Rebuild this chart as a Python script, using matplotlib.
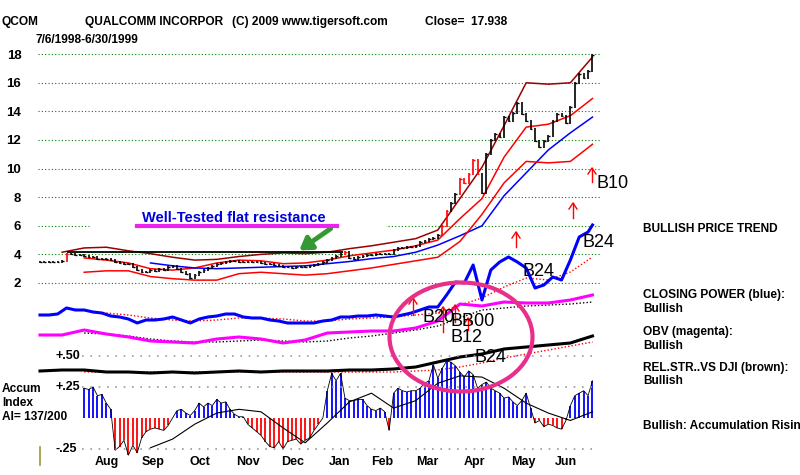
import numpy as np
import matplotlib.pyplot as plt
from matplotlib.patches import Ellipse, Rectangle
from matplotlib.lines import Line2D

W, H = 800, 475

# --- QCOM closes, one value every 2 trading days (7/6/1998 - 6/30/1999)
close = [3.45, 3.5, 3.45, 3.5, 3.5, 3.55,
         4.05, 4.0, 3.95, 3.95, 3.9, 3.85,
         3.8, 3.7, 3.65, 3.65, 3.6, 3.5, 3.4, 3.35, 3.3, 3.1, 2.9, 2.8,
         2.8, 2.9, 2.85, 2.95, 2.9, 3.15, 3.2, 3.0, 2.8, 2.6, 2.35, 2.55,
         2.75, 2.9, 3.05, 3.2, 3.3, 3.4, 3.45, 3.55, 3.55, 3.5, 3.45, 3.45,
         3.5, 3.45, 3.4, 3.35, 3.3, 3.25, 3.2, 3.15, 3.1, 3.05, 3.1, 3.15,
         3.1, 3.2, 3.25, 3.3, 3.45, 3.6, 3.75, 3.9, 4.05, 4.2, 3.75, 3.7,
         3.85, 3.9, 3.95, 3.95, 4.0, 4.0, 4.05, 4.0, 4.3, 4.45, 4.45, 4.5,
         4.55, 4.6, 4.9, 4.95, 5.05, 5.15, 5.35, 6.0, 7.0, 7.6, 8.2, 9.3,
         9.0, 9.6, 10.6, 9.6, 8.3, 11.0, 12.0, 12.4, 12.2, 13.6, 13.3, 13.9,
         14.6, 13.8, 13.3, 12.8, 11.9, 11.5, 11.9, 12.3, 13.3, 13.8, 13.7, 13.2,
         14.3, 16.0, 16.6, 16.3, 16.8, 17.94]
red_bars = [6, 69, 91, 92, 95, 96, 97, 98, 99]
resistance = 4.15
resistance_span = (6, 68.5)

# bands, one value every 10 trading days
band_dark = [np.nan, 4.15, 4.45, 4.5, 4.25, 4.05, 3.8, 3.6, 3.65, 3.85, 4.0, 4.1, 4.05,
             4.15, 4.4, 4.6, 4.85, 5.1, 5.7, 7.9, 10.1, 13.0, 16.0, 15.9, 16.0, 17.8]
band_upper = [np.nan, np.nan, 3.75, 3.6, 3.4, 3.0, 2.9, 3.05, 3.4, 3.6, 3.55, 3.35, 3.4,
              3.6, 3.9, 4.1, 4.3, 4.6, 5.0, 6.5, 7.9, 10.8, 12.9, 13.1, 13.7, 14.9]
ma_blue = [np.nan, np.nan, np.nan, np.nan, np.nan, 3.4, 3.2, 3.05, 3.0, 3.05, 3.1, 3.15, 3.2,
           3.35, 3.5, 3.7, 3.85, 4.15, 4.65, 5.3, 6.0, 8.1, 9.7, 11.3, 12.5, 13.6]
band_lower = [np.nan, np.nan, 2.75, 2.85, 2.85, 2.45, 2.3, 2.2, 2.2, 2.65, 2.75, 2.65, 2.55,
              2.65, 2.85, 3.05, 3.3, 3.55, 3.8, 4.9, 6.8, 9.0, 10.5, 10.4, 10.5, 11.7]

# indicator lines (relative height, no scale printed)
closing_power = [85, 85, 86, 92, 90, 90, 88, 87, 84, 83, 81, 77, 80, 80, 81, 83,
                 80, 77, 81, 83, 84, 86, 86, 83, 82, 82, 80, 79, 77, 77, 77, 77,
                 79, 80, 83, 83, 84, 84, 85, 84, 83, 85, 87, 90, 93, 93, 105, 118,
                 117, 135, 100, 130, 138, 143, 138, 132, 112, 115, 123, 120, 140, 163, 168, 175]
cp_ma = [np.nan, np.nan, np.nan, 87, 85, 82, 80, 79, 80, 82, 82, 81, 79,
         79, 81, 82, 83, 85, 87, 95, 102, 113, 122, 120, 128, 143]
obv = [65, 65, 70, 66, 63, 59, 58, 57, 61, 63, 61, 57, 60,
       67, 68, 69, 69, 72, 79, 96, 94, 98, 97, 97, 100, 105]
obv_ma = [np.nan, np.nan, 67, 66, 64, 61, 59, 58, 58, 59, 60, 59, 58,
          59, 62, 64, 67, 70, 74, 82, 90, 92, 94, 95, 96, 98]
rel_str = [29, 30, 30, 28, 28, 27, 28, 27, 28, 29, 28, 29, 29,
           29, 30, 30, 31, 33, 38, 43, 46, 51, 53, 55, 57, 64]
rs_ma = [np.nan, np.nan, 28, 28, 28, 28, 28, 28, 28, 28, 28, 28, 28,
         28, 28, 28, 28, 29, 30, 33, 37, 42, 46, 50, 54, 58]

# accumulation index, every 2 trading days from late July
accum = [0.24, 0.23, 0.25, 0.18, 0.19, 0.12, 0.07, -0.26, -0.23, -0.18, -0.3, -0.22,
         -0.28, -0.16, -0.11, -0.09, -0.08, -0.09, -0.1, -0.06, 0.0, 0.06, 0.07, 0.04,
         0.02, 0.06, 0.12, 0.09, 0.12, 0.1, 0.15, 0.12, 0.13, 0.07, 0.03, 0.01,
         0.01, -0.05, -0.08, -0.11, -0.14, -0.19, -0.23, -0.24, -0.19, -0.25, -0.19, -0.18,
         -0.17, -0.21, -0.18, -0.16, -0.1, -0.05, 0.0, 0.22, 0.36, 0.3, 0.36, 0.16,
         0.14, 0.14, 0.15, 0.15, 0.1, 0.07, 0.06, 0.08, 0.05, -0.1, 0.2, 0.24,
         0.22, 0.21, 0.22, 0.22, 0.24, 0.28, 0.3, 0.43, 0.32, 0.4, 0.46, 0.45,
         0.42, 0.37, 0.33, 0.38, 0.35, 0.24, 0.27, 0.29, 0.24, 0.22, 0.2, 0.16,
         0.17, 0.13, 0.1, 0.14, 0.2, 0.08, -0.04, -0.02, -0.07, -0.05, -0.06, -0.08,
         -0.09, -0.02, 0.1, 0.18, 0.2, 0.22, 0.18, 0.3]
accum_ma = [np.nan, np.nan, np.nan, np.nan, np.nan, -0.24, -0.17, -0.05, 0.04, 0.07, 0.05, -0.08, -0.2,
            -0.04, 0.13, 0.2, 0.08, 0.14, 0.28, 0.34, 0.33, 0.24, 0.12, 0.04, -0.02, 0.05]

months = ['Aug', 'Sep', 'Oct', 'Nov', 'Dec', 'Jan', 'Feb', 'Mar', 'Apr', 'May', 'Jun']
month_pos = [15.2, 25.6, 36.2, 47.1, 57.2, 67.9, 77.4, 87.6, 98.4, 109.3, 119.0]
price_ticks = [2, 4, 6, 8, 10, 12, 14, 16, 18]
ai_ticks = [0.50, 0.25, -0.25]
ai_labels = ['+.50', '+.25', '-.25']

plt.rcParams['font.family'] = ['Liberation Sans', 'DejaVu Sans']


def fx(px):
    return px / W


def fy(py):
    return 1 - py / H


def box(x0, y0, x1, y1):
    return [fx(x0), fy(y1), fx(x1) - fx(x0), fy(y0) - fy(y1)]


XLIM = (-0.45, 126.7)
fig = plt.figure(figsize=(8, 4.75), dpi=100)
fig.patch.set_facecolor('white')

# ---------------- price panel
ax = fig.add_axes(box(38, 40, 600, 300), facecolor='none')
ax.set_xlim(*XLIM)
ax.set_ylim(0.81, 18.99)
for s in ax.spines.values():
    s.set_visible(False)
ax.set_xticks([])
ax.set_yticks(price_ticks)
ax.set_yticklabels([str(t) for t in price_ticks], fontweight='bold', fontsize=9.5)
ax.tick_params(axis='y', length=0, pad=12)
for p in price_ticks:
    ax.axhline(p, color='#008000', ls=(0, (1, 2)), lw=0.8, zorder=1)
ax.add_patch(Rectangle((11.3, 5.6), 66.7, 0.8, color='white', zorder=1.5))

k = np.arange(len(close))
c = np.array(close)
prev = np.r_[c[0], c[:-1]]
lo = np.minimum(prev, c) - 0.07
hi = np.maximum(prev, c) + 0.07
bar_col = ['red' if i in red_bars else 'black' for i in k]
ax.vlines(k, lo, hi, colors=bar_col, lw=1.2, zorder=4)
ax.hlines(c, k, k + 0.4, colors=bar_col, lw=1.0, zorder=4)

kb = np.arange(0, 126, 5)
ax.plot(kb, band_dark, color='#990000', lw=1.1, zorder=3)
ax.plot(kb, band_upper, color='#ff0000', lw=1.1, zorder=3)
ax.plot(kb, ma_blue, color='#0000ff', lw=1.1, zorder=3)
ax.plot(kb, band_lower, color='#ff0000', lw=1.1, zorder=3)
ax.hlines(resistance, *resistance_span, color='black', lw=1.3, zorder=3)

# ---------------- indicator lines
axi = fig.add_axes(box(38, 215, 600, 400), facecolor='none')
axi.set_xlim(*XLIM)
axi.set_ylim(0, 185)
axi.axis('off')
kcp = np.append(np.arange(0, 125, 2), 125)
axi.plot(kb, cp_ma, color='red', ls=(0, (1, 1.5)), lw=1, zorder=2)
axi.plot(kcp, closing_power, color='#0000ff', lw=2.2, zorder=3)
axi.plot(kb, obv_ma, color='black', ls=(0, (1, 1.5)), lw=1, zorder=2)
axi.plot(kb, obv, color='#ff00ff', lw=2.2, zorder=3)
axi.plot(kb, rs_ma, color='red', ls=(0, (1, 1.5)), lw=1, zorder=2)
axi.plot(kb, rel_str, color='black', lw=2.2, zorder=3)

# ---------------- accumulation index
axa = fig.add_axes(box(38, 340, 600, 470), facecolor='none')
axa.set_xlim(*XLIM)
axa.set_ylim((418 - 470) / 124, (418 - 340) / 124)
axa.axis('off')
ka = np.arange(10, 10 + len(accum))
a = np.array(accum)
axa.vlines(ka, 0, a, colors=np.where(a >= 0, '#0000ff', '#ff0000'), lw=1.3)
axa.plot(ka, a, color='black', lw=0.6)
axa.plot(kb, accum_ma, color='black', lw=0.8)
for t, lab in zip(ai_ticks, ai_labels):
    col = '#b090b0' if t == 0.5 else '#999999'
    axa.hlines(t, 9.5, 126, color=col, ls=(0, (1, 4)), lw=1.2)
    axa.text(3.4, t, lab, ha='left', va='center', fontweight='bold', fontsize=9)
for m, pos in zip(months, month_pos):
    axa.text(pos, (418 - 462) / 124, m, ha='center', va='center', fontweight='bold', fontsize=9)

# ---------------- texts
bold = dict(fontweight='bold', fontsize=8.6, va='center')
fig.text(fx(2), fy(22), 'QCOM', **bold)
fig.text(fx(85), fy(22), 'QUALCOMM INCORPOR', **bold)
fig.text(fx(232), fy(22), '(C) 2009 www.tigersoft.com', **bold)
fig.text(fx(425), fy(22), 'Close=  17.938', **bold)
fig.text(fx(36), fy(40), '7/6/1998-6/30/1999', **bold)

for txt, y in [('BULLISH PRICE TREND', 229), ('CLOSING POWER (blue):', 295), ('Bullish', 309),
               ('OBV (magenta):', 332), ('Bullish', 346), ('REL.STR..VS DJI (brown):', 368),
               ('Bullish', 381), ('Bullish: Accumulation Rising', 426)]:
    fig.text(fx(643), fy(y), txt, **bold)
for txt, y in [('Accum', 389), ('Index', 403), ('AI= 137/200', 417)]:
    fig.text(fx(2), fy(y), txt, **bold)

sig = dict(fontsize=13, va='center', zorder=6)
for txt, x, y in [('B20', 422, 318), ('BB00', 450, 322), ('B12', 450, 337), ('B24', 475, 357),
                  ('B24', 523, 272), ('B24', 582, 243), ('B10', 597, 184)]:
    fig.text(fx(x), fy(y), txt, **sig)

for x, yb, yt in [(413, 315, 298), (443, 332, 307), (455, 322, 305), (468, 330, 318),
                  (516, 247, 232), (573, 218, 203), (592, 182, 168)]:
    fig.add_artist(Line2D([fx(x), fx(x)], [fy(yb), fy(yt)], color='red', lw=1))
    fig.add_artist(Line2D([fx(x - 4), fx(x), fx(x + 4)], [fy(yt + 6), fy(yt), fy(yt + 6)],
                          color='red', lw=1))

fig.text(fx(142), fy(218), 'Well-Tested flat resistance', color='#0000dd',
         fontweight='bold', fontsize=10.5, va='center')
fig.add_artist(Line2D([fx(137), fx(337)], [fy(226), fy(226)], color='#ee22ee', lw=3))
fig.add_artist(Line2D([fx(40), fx(40)], [fy(447), fy(465)], color='#999933', lw=1.2))

ax.annotate('', xy=(fx(297), fy(252)), xytext=(fx(333), fy(227)),
            xycoords='figure fraction', textcoords='figure fraction',
            arrowprops=dict(arrowstyle='-|>,head_width=0.45,head_length=0.7',
                            lw=3.5, color='#339933'))

fig.add_artist(Ellipse((fx(461), fy(337)), 143 / W, 109 / H, fill=False,
                       edgecolor='#e8308a', lw=3, zorder=10))

fig.savefig('out.png', dpi=100, facecolor='white')
